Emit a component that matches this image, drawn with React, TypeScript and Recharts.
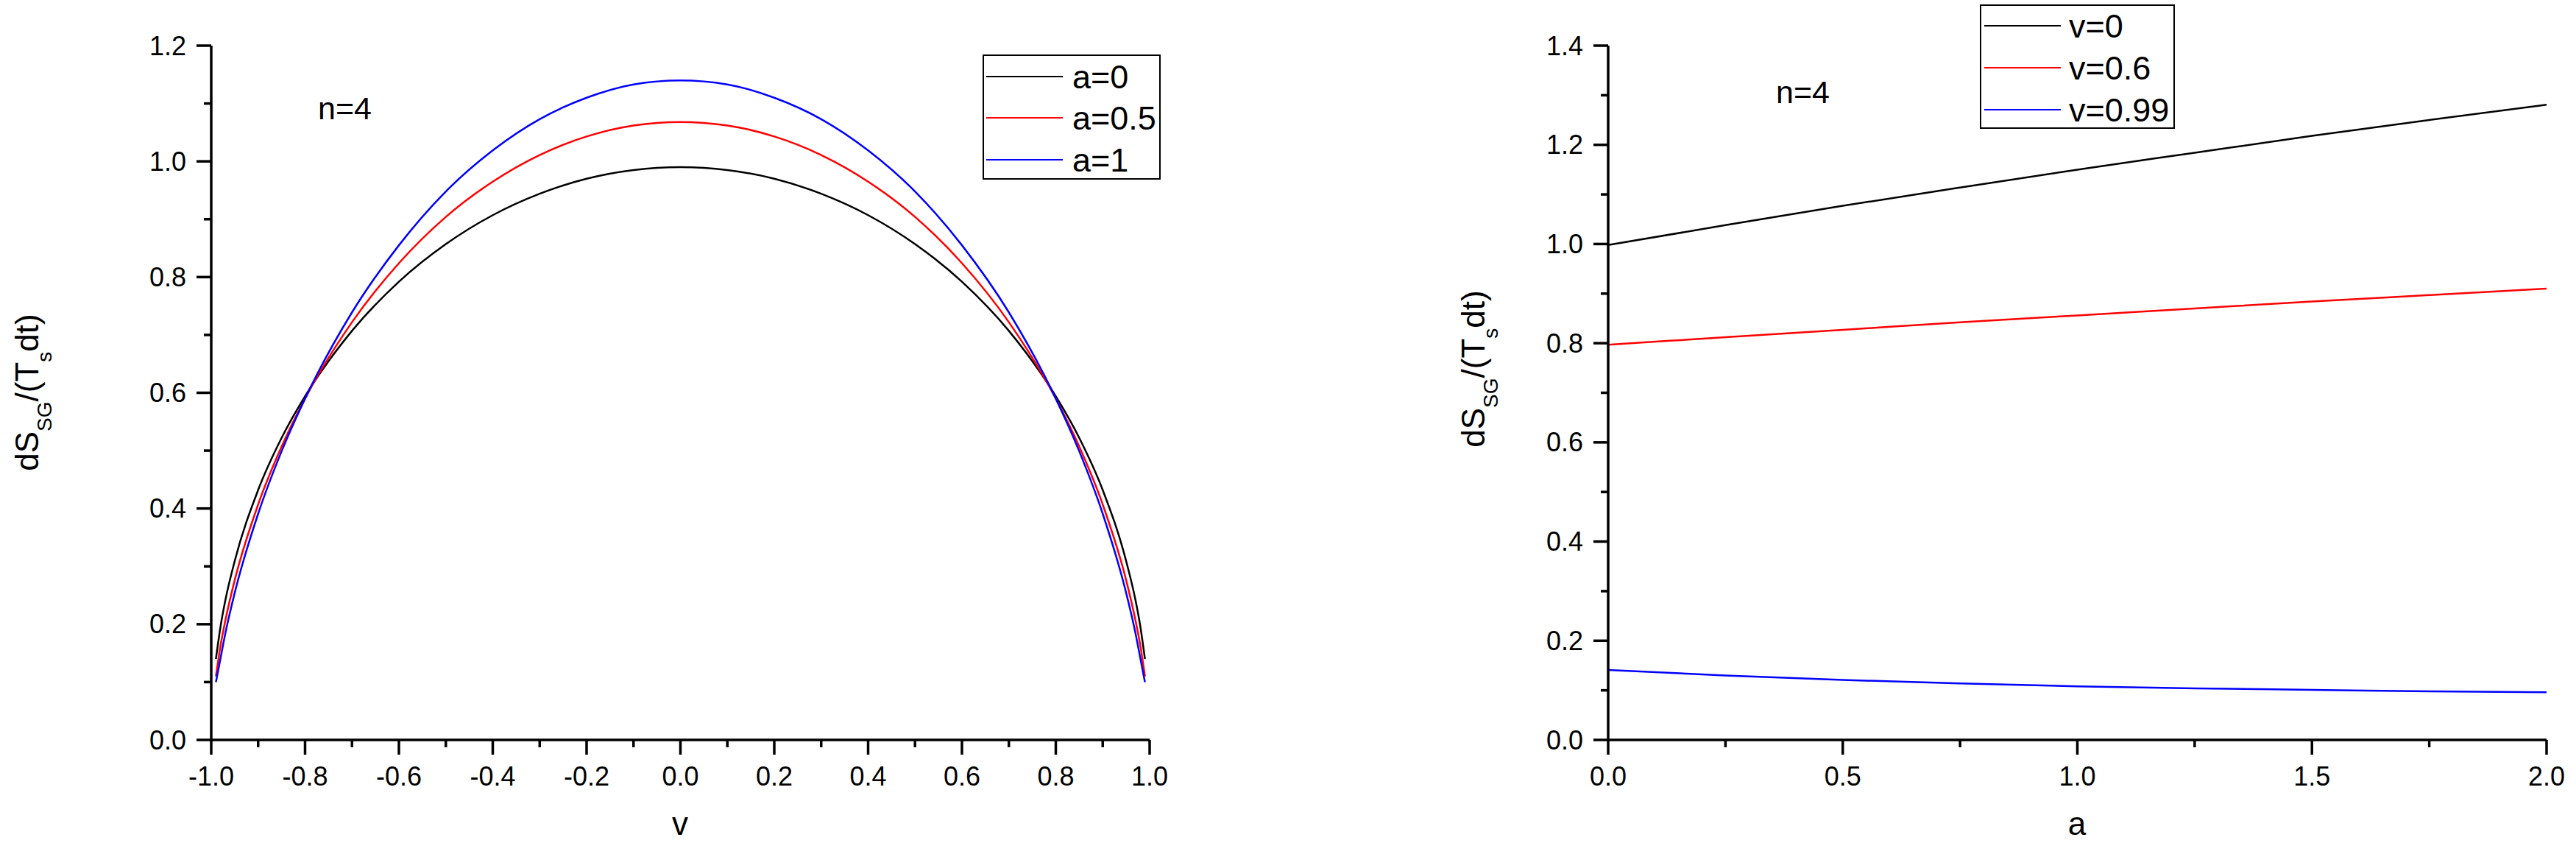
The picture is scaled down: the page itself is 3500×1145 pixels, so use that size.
import React from 'react';
import { LineChart, Line, XAxis, YAxis } from 'recharts';

// left panel: dS/(T dt) against v, n=4
const vValues = [
  -0.99, -0.98, -0.97, -0.95, -0.9, -0.85, -0.8, -0.7, -0.6, -0.5, -0.4, -0.3, -0.2, -0.1, 0,
  0.1, 0.2, 0.3, 0.4, 0.5, 0.6, 0.7, 0.8, 0.85, 0.9, 0.95, 0.97, 0.98, 0.99,
];
const a0Values = [
  0.14, 0.197, 0.241, 0.309, 0.432, 0.522, 0.594, 0.707, 0.792, 0.857, 0.907, 0.944, 0.97, 0.985, 0.99,
  0.985, 0.97, 0.944, 0.907, 0.857, 0.792, 0.707, 0.594, 0.522, 0.432, 0.309, 0.241, 0.197, 0.14,
];
const a05Values = [
  0.11, 0.164, 0.206, 0.276, 0.407, 0.507, 0.59, 0.722, 0.824, 0.904, 0.965, 1.011, 1.043, 1.062, 1.068,
  1.062, 1.043, 1.011, 0.965, 0.904, 0.824, 0.722, 0.59, 0.507, 0.407, 0.276, 0.206, 0.164, 0.11,
];
const a1Values = [
  0.1, 0.142, 0.184, 0.254, 0.391, 0.499, 0.59, 0.739, 0.855, 0.948, 1.019, 1.073, 1.11, 1.133, 1.14,
  1.133, 1.11, 1.073, 1.019, 0.948, 0.855, 0.739, 0.59, 0.499, 0.391, 0.254, 0.184, 0.142, 0.1,
];

// right panel: dS/(T dt) against a, n=4
const aValues = [0, 0.25, 0.5, 0.75, 1, 1.25, 1.5, 1.75, 2];
const v0Values = [0.998, 1.038, 1.077, 1.114, 1.15, 1.184, 1.218, 1.25, 1.281];
const v06Values = [0.797, 0.812, 0.827, 0.842, 0.856, 0.87, 0.884, 0.897, 0.91];
const v099Values = [0.141, 0.13, 0.121, 0.114, 0.108, 0.104, 0.101, 0.098, 0.096];

const leftTicksX = [-1, -0.9, -0.8, -0.7, -0.6, -0.5, -0.4, -0.3, -0.2, -0.1, 0, 0.1, 0.2, 0.3, 0.4, 0.5, 0.6, 0.7, 0.8, 0.9, 1];
const leftTicksY = [0, 0.1, 0.2, 0.3, 0.4, 0.5, 0.6, 0.7, 0.8, 0.9, 1, 1.1, 1.2];
const rightTicksX = [0, 0.25, 0.5, 0.75, 1, 1.25, 1.5, 1.75, 2];
const rightTicksY = [0, 0.1, 0.2, 0.3, 0.4, 0.5, 0.6, 0.7, 0.8, 0.9, 1, 1.1, 1.2, 1.3, 1.4];

const leftSeries = [
  { key: 'a0', label: 'a=0', color: '#000000', values: a0Values },
  { key: 'a05', label: 'a=0.5', color: '#ff0000', values: a05Values },
  { key: 'a1', label: 'a=1', color: '#0000ff', values: a1Values },
];
const rightSeries = [
  { key: 'v0', label: 'v=0', color: '#000000', values: v0Values },
  { key: 'v06', label: 'v=0.6', color: '#ff0000', values: v06Values },
  { key: 'v099', label: 'v=0.99', color: '#0000ff', values: v099Values },
];

const leftData = vValues.map((v, i) => {
  const row: Record<string, number> = { v };
  leftSeries.forEach((s) => (row[s.key] = s.values[i]));
  return row;
});
const rightData = aValues.map((a, i) => {
  const row: Record<string, number> = { a };
  rightSeries.forEach((s) => (row[s.key] = s.values[i]));
  return row;
});

const AXIS_W = 3.5;
const TICK_FONT = 36;

const isMajorY = (v: number) => Math.round(v * 10) % 2 === 0;
const isMajorLeftX = (v: number) => Math.round(v * 10) % 2 === 0;
const isMajorRightX = (v: number) => Math.round(v * 4) % 2 === 0;

const makeYTick = (isMajor: (v: number) => boolean) => (props: any) => {
  const { x, y, payload } = props;
  const major = isMajor(payload.value);
  return (
    <g>
      <line x1={x} x2={x - (major ? 20 : 10)} y1={y} y2={y} stroke="#000" strokeWidth={AXIS_W} />
      {major && (
        <text x={x - 34} y={y} dy="0.35em" textAnchor="end" fontSize={TICK_FONT} fill="#000">
          {payload.value.toFixed(1)}
        </text>
      )}
    </g>
  );
};

const makeXTick = (isMajor: (v: number) => boolean) => (props: any) => {
  const { x, y, payload } = props;
  const major = isMajor(payload.value);
  return (
    <g>
      <line x1={x} x2={x} y1={y} y2={y + (major ? 20 : 10)} stroke="#000" strokeWidth={AXIS_W} />
      {major && (
        <text x={x} y={y + 62} textAnchor="middle" fontSize={TICK_FONT} fill="#000">
          {payload.value.toFixed(1)}
        </text>
      )}
    </g>
  );
};

function YLabel({ x, y }: { x: number; y: number }) {
  return (
    <text transform={`translate(${x},${y}) rotate(-90)`} textAnchor="middle" fontSize={44} fill="#000">
      dS
      <tspan fontSize={28} dy={18}>SG</tspan>
      <tspan dy={-18}>/(T</tspan>
      <tspan fontSize={28} dy={18}>s</tspan>
      <tspan dy={-18}>dt)</tspan>
    </text>
  );
}

function LegendBox({
  series,
  box,
  lineX,
  lineY,
  textX,
}: {
  series: { label: string; color: string }[];
  box: [number, number, number, number];
  lineX: [number, number];
  lineY: number[];
  textX: number;
}) {
  return (
    <g>
      <rect x={box[0]} y={box[1]} width={box[2]} height={box[3]} fill="#fff" stroke="#000" strokeWidth={2} />
      {series.map((s, i) => (
        <g key={s.label}>
          <line x1={lineX[0]} x2={lineX[1]} y1={lineY[i]} y2={lineY[i]} stroke={s.color} strokeWidth={2} />
          <text x={textX} y={lineY[i]} dy="0.36em" fontSize={45} fill="#000">
            {s.label}
          </text>
        </g>
      ))}
    </g>
  );
}

export default function App() {
  return (
    <div
      style={{
        position: 'absolute',
        left: 0,
        top: 0,
        width: 3500,
        height: 1145,
        background: '#fff',
        fontFamily: "Arial, 'Liberation Sans', Helvetica, sans-serif",
        overflow: 'hidden',
      }}
    >
      <div style={{ position: 'absolute', left: 0, top: 0 }}>
        <LineChart width={1700} height={1145} data={leftData} margin={{ top: 62, right: 138, bottom: 139, left: 286 }}>
          <XAxis
            dataKey="v"
            type="number"
            domain={[-1, 1]}
            ticks={leftTicksX}
            interval={0}
            height={1}
            tickSize={0}
            tickMargin={0}
            tickLine={false}
            axisLine={{ stroke: '#000', strokeWidth: AXIS_W }}
            tick={makeXTick(isMajorLeftX)}
          />
          <YAxis
            type="number"
            domain={[0, 1.2]}
            ticks={leftTicksY}
            interval={0}
            width={1}
            tickSize={0}
            tickMargin={0}
            tickLine={false}
            axisLine={{ stroke: '#000', strokeWidth: AXIS_W }}
            tick={makeYTick(isMajorY)}
          />
          {leftSeries.map((s) => (
            <Line
              key={s.key}
              dataKey={s.key}
              type="monotone"
              stroke={s.color}
              strokeWidth={2.5}
              dot={false}
              isAnimationActive={false}
            />
          ))}
        </LineChart>
      </div>

      <div style={{ position: 'absolute', left: 1800, top: 0 }}>
        <LineChart width={1700} height={1145} data={rightData} margin={{ top: 62, right: 40, bottom: 139, left: 384 }}>
          <XAxis
            dataKey="a"
            type="number"
            domain={[0, 2]}
            ticks={rightTicksX}
            interval={0}
            height={1}
            tickSize={0}
            tickMargin={0}
            tickLine={false}
            axisLine={{ stroke: '#000', strokeWidth: AXIS_W }}
            tick={makeXTick(isMajorRightX)}
          />
          <YAxis
            type="number"
            domain={[0, 1.4]}
            ticks={rightTicksY}
            interval={0}
            width={1}
            tickSize={0}
            tickMargin={0}
            tickLine={false}
            axisLine={{ stroke: '#000', strokeWidth: AXIS_W }}
            tick={makeYTick(isMajorY)}
          />
          {rightSeries.map((s) => (
            <Line
              key={s.key}
              dataKey={s.key}
              type="monotone"
              stroke={s.color}
              strokeWidth={2.5}
              dot={false}
              isAnimationActive={false}
            />
          ))}
        </LineChart>
      </div>

      <svg
        width={3500}
        height={1145}
        style={{ position: 'absolute', left: 0, top: 0, pointerEvents: 'none' }}
      >
        <YLabel x={52} y={533} />
        <YLabel x={2017} y={501} />
        <text x={924} y={1134} textAnchor="middle" fontSize={44} fill="#000">v</text>
        <text x={2822} y={1134} textAnchor="middle" fontSize={44} fill="#000">a</text>
        <text x={432} y={162} fontSize={43} fill="#000">n=4</text>
        <text x={2413} y={140} fontSize={43} fill="#000">n=4</text>
        <LegendBox
          series={leftSeries}
          box={[1336, 75, 240, 168]}
          lineX={[1340, 1444]}
          lineY={[104, 160, 217]}
          textX={1457}
        />
        <LegendBox
          series={rightSeries}
          box={[2691, 7, 263, 167]}
          lineX={[2696, 2800]}
          lineY={[35, 92, 149]}
          textX={2811}
        />
      </svg>
    </div>
  );
}
